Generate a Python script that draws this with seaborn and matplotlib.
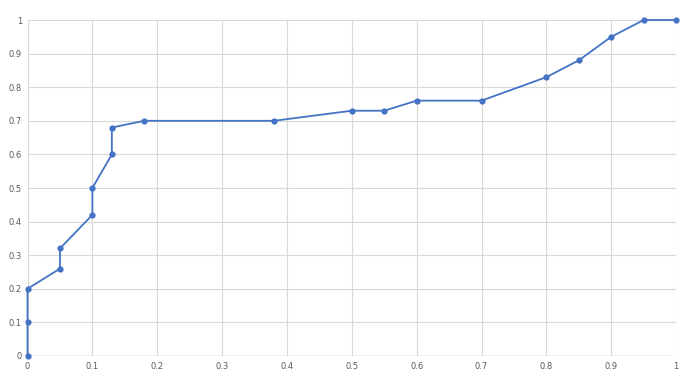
import numpy as np
import pandas as pd
import matplotlib
matplotlib.use("Agg")
import matplotlib.pyplot as plt
import seaborn as sns

# data
x_vals = [0, 0, 0, 0.05, 0.05, 0.1, 0.1, 0.13, 0.13, 0.18, 0.38, 0.5, 0.55,
          0.6, 0.7, 0.8, 0.85, 0.9, 0.95, 1.0]
y_vals = [0, 0.1, 0.2, 0.26, 0.32, 0.42, 0.5, 0.6, 0.68, 0.7, 0.7, 0.73, 0.73,
          0.76, 0.76, 0.83, 0.88, 0.95, 1.0, 1.0]
x_ticks = [0, 0.1, 0.2, 0.3, 0.4, 0.5, 0.6, 0.7, 0.8, 0.9, 1]
y_ticks = [0, 0.1, 0.2, 0.3, 0.4, 0.5, 0.6, 0.7, 0.8, 0.9, 1]
tick_labels = ["0", "0.1", "0.2", "0.3", "0.4", "0.5", "0.6", "0.7", "0.8", "0.9", "1"]

sns.set_theme(style="white")
plt.rcParams['font.family'] = ['DejaVu Sans']

df = pd.DataFrame({"x": x_vals, "y": y_vals})

fig = plt.figure(figsize=(6.97, 3.79), dpi=100)
ax = fig.add_axes([0.0395, 0.0607, 0.9305, 0.8865])

sns.lineplot(data=df, x="x", y="y", sort=False, estimator=None, ax=ax,
             color="#4472C4", linewidth=1.3, marker="o", markersize=4.5,
             markeredgewidth=0, zorder=3, clip_on=False)

ax.set_xlim(0, 1)
ax.set_ylim(0, 1)
ax.set_xticks(x_ticks)
ax.set_yticks(y_ticks)
ax.set_xticklabels(tick_labels)
ax.set_yticklabels(tick_labels)
ax.tick_params(axis="both", labelsize=6, colors="#595959", length=0, pad=4)
ax.set_xlabel("")
ax.set_ylabel("")
ax.grid(True, color="#d9d9d9", linewidth=0.8)
for s in ax.spines.values():
    s.set_visible(False)
ax.axhline(0, color="#d0d0d0", linewidth=1, zorder=1)

fig.savefig("out.png", dpi=100)
